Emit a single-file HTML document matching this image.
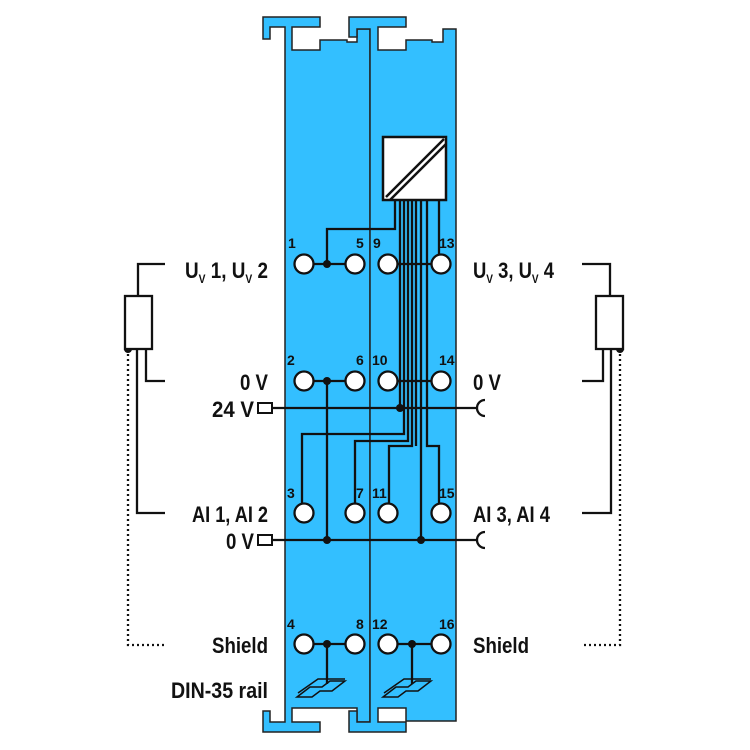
<!DOCTYPE html>
<html><head><meta charset="utf-8"><style>
html,body{margin:0;padding:0;background:#fff;}
svg{display:block;}
text{font-family:"Liberation Sans",sans-serif;font-weight:bold;fill:#111;}
</style></head><body>
<svg width="750" height="750" viewBox="0 0 750 750" xmlns="http://www.w3.org/2000/svg">
<g fill="#33bfff" stroke="#222" stroke-width="1.5" stroke-linejoin="miter">
  <polygon points="263,39 263,17 320,17 320,27 292,27 292,50 320,50 320,40 347,40 347,42 357,42 357,29 370,29 370,722 357,722 357,708 292,708 292,722 320,722 320,732 263,732 263,711 270,711 270,722 285,722 285,27 270,27 270,39"/>
  <polygon points="349,17 406,17 406,27 378,27 378,50 406,50 406,40 432,40 432,42 443,42 443,29 456,29 456,721 406,721 406,708 378,708 378,722 406,722 406,732 349,732 349,711 357,711 357,722 370,722 370,29 357,29 357,37 349,37"/>
</g>
<line x1="370" y1="29" x2="370" y2="722" stroke="#222" stroke-width="1"/>

<rect x="383" y="137" width="63" height="63" fill="#fff" stroke="#111" stroke-width="2.5"/>
<line x1="386" y1="197" x2="444" y2="139" stroke="#111" stroke-width="2.5"/>
<line x1="390" y1="200" x2="446" y2="144" stroke="#111" stroke-width="2.5"/>

<g stroke="#111" stroke-width="2.3" fill="none">
  <polyline points="395,200 395,229 327,229 327,264"/>
  <line x1="400" y1="200" x2="400" y2="408"/>
  <polyline points="404,200 404,434 302,434 302,504"/>
  <polyline points="408,200 408,441 355,441 355,504"/>
  <polyline points="412,200 412,446 389,446 389,504"/>
  <line x1="416" y1="200" x2="416" y2="446"/>
  <line x1="421" y1="200" x2="421" y2="540"/>
  <polyline points="427,200 427,446 439,446 439,504"/>
  <line x1="439" y1="200" x2="439" y2="255"/>
  <line x1="305" y1="264" x2="355" y2="264"/>
  <line x1="390" y1="264" x2="441" y2="264"/>
  <line x1="305" y1="381" x2="355" y2="381"/>
  <line x1="390" y1="381" x2="441" y2="381"/>
  <line x1="327" y1="381" x2="327" y2="540"/>
  <line x1="305" y1="644" x2="355" y2="644"/>
  <line x1="390" y1="644" x2="441" y2="644"/>
  <line x1="327" y1="644" x2="327" y2="684"/>
  <line x1="412" y1="644" x2="412" y2="684"/>
  <line x1="272" y1="408" x2="476" y2="408"/>
  <line x1="272" y1="540" x2="476" y2="540"/>
  <path d="M485,400 A8,8 0 0 0 485,416"/>
  <path d="M485,532 A8,8 0 0 0 485,548"/>
</g>
<rect x="258" y="403" width="14" height="10" fill="#fff" stroke="#111" stroke-width="2"/>
<rect x="258" y="535" width="14" height="10" fill="#fff" stroke="#111" stroke-width="2"/>

<g fill="#fff" stroke="#111" stroke-width="2.3">
  <circle cx="304" cy="264" r="9.5"/><circle cx="355" cy="264" r="9.5"/><circle cx="388" cy="264" r="9.5"/><circle cx="441" cy="264" r="9.5"/>
  <circle cx="304" cy="381" r="9.5"/><circle cx="355" cy="381" r="9.5"/><circle cx="388" cy="381" r="9.5"/><circle cx="441" cy="381" r="9.5"/>
  <circle cx="304" cy="513" r="9.5"/><circle cx="355" cy="513" r="9.5"/><circle cx="388" cy="513" r="9.5"/><circle cx="441" cy="513" r="9.5"/>
  <circle cx="304" cy="644" r="9.5"/><circle cx="355" cy="644" r="9.5"/><circle cx="388" cy="644" r="9.5"/><circle cx="441" cy="644" r="9.5"/>
</g>
<g fill="#111">
  <circle cx="327" cy="264" r="4"/><circle cx="327" cy="381" r="4"/>
  <circle cx="400" cy="408" r="4"/><circle cx="327" cy="540" r="4"/><circle cx="421" cy="540" r="4"/>
  <circle cx="327" cy="644" r="4"/><circle cx="412" cy="644" r="4"/>
  <circle cx="128" cy="349" r="4"/><circle cx="620" cy="349" r="4"/>
</g>

<g fill="none" stroke="#111" stroke-width="1.5">
  <polygon points="297,697 310,687 322,687 330,681 345,681 332,691 320,691 312,697 300,697"/>
  <polyline points="298,693 318,679 345,679"/>
  <polygon points="383,697 396,687 408,687 416,681 431,681 418,691 406,691 398,697 386,697"/>
  <polyline points="384,693 404,679 431,679"/>
</g>

<g font-size="14">
  <text x="288" y="248">1</text><text x="356" y="248">5</text><text x="373" y="248">9</text><text x="439" y="248">13</text>
  <text x="287" y="365">2</text><text x="356" y="365">6</text><text x="372" y="365">10</text><text x="439" y="365">14</text>
  <text x="287" y="498">3</text><text x="356" y="498">7</text><text x="372" y="498">11</text><text x="439" y="498">15</text>
  <text x="287" y="629">4</text><text x="356" y="629">8</text><text x="372" y="629">12</text><text x="439" y="629">16</text>
</g>

<g font-size="22">
  <text x="185" y="278" textLength="83" lengthAdjust="spacingAndGlyphs">U<tspan font-size="12" dy="5">V</tspan><tspan dy="-5"> 1, U</tspan><tspan font-size="12" dy="5">V</tspan><tspan dy="-5"> 2</tspan></text>
  <text x="240" y="390" textLength="28" lengthAdjust="spacingAndGlyphs">0 V</text>
  <text x="212" y="417" textLength="42" lengthAdjust="spacingAndGlyphs">24 V</text>
  <text x="192" y="522" textLength="76" lengthAdjust="spacingAndGlyphs">AI 1, AI 2</text>
  <text x="226" y="549" textLength="28" lengthAdjust="spacingAndGlyphs">0 V</text>
  <text x="212" y="653" textLength="56" lengthAdjust="spacingAndGlyphs">Shield</text>
  <text x="171" y="698" textLength="97" lengthAdjust="spacingAndGlyphs">DIN-35 rail</text>
  <text x="473" y="278" textLength="81" lengthAdjust="spacingAndGlyphs">U<tspan font-size="12" dy="5">V</tspan><tspan dy="-5"> 3, U</tspan><tspan font-size="12" dy="5">V</tspan><tspan dy="-5"> 4</tspan></text>
  <text x="473" y="390" textLength="28" lengthAdjust="spacingAndGlyphs">0 V</text>
  <text x="473" y="522" textLength="77" lengthAdjust="spacingAndGlyphs">AI 3, AI 4</text>
  <text x="473" y="653" textLength="56" lengthAdjust="spacingAndGlyphs">Shield</text>
</g>

<g stroke="#111" stroke-width="2.3" fill="none">
  <polyline points="165,264 138,264 138,296"/>
  <rect x="125" y="296" width="27" height="53" fill="#fff"/>
  <polyline points="146,349 146,381 165,381"/>
  <polyline points="137,349 137,513 165,513"/>
  <polyline points="128,349 128,645 167,645" stroke-dasharray="2,3"/>
  <polyline points="582,264 610,264 610,296"/>
  <rect x="596" y="296" width="27" height="53" fill="#fff"/>
  <polyline points="603,349 603,381 582,381"/>
  <polyline points="611,349 611,513 582,513"/>
  <polyline points="620,349 620,645 582,645" stroke-dasharray="2,3"/>
</g>
</svg>
</body></html>
